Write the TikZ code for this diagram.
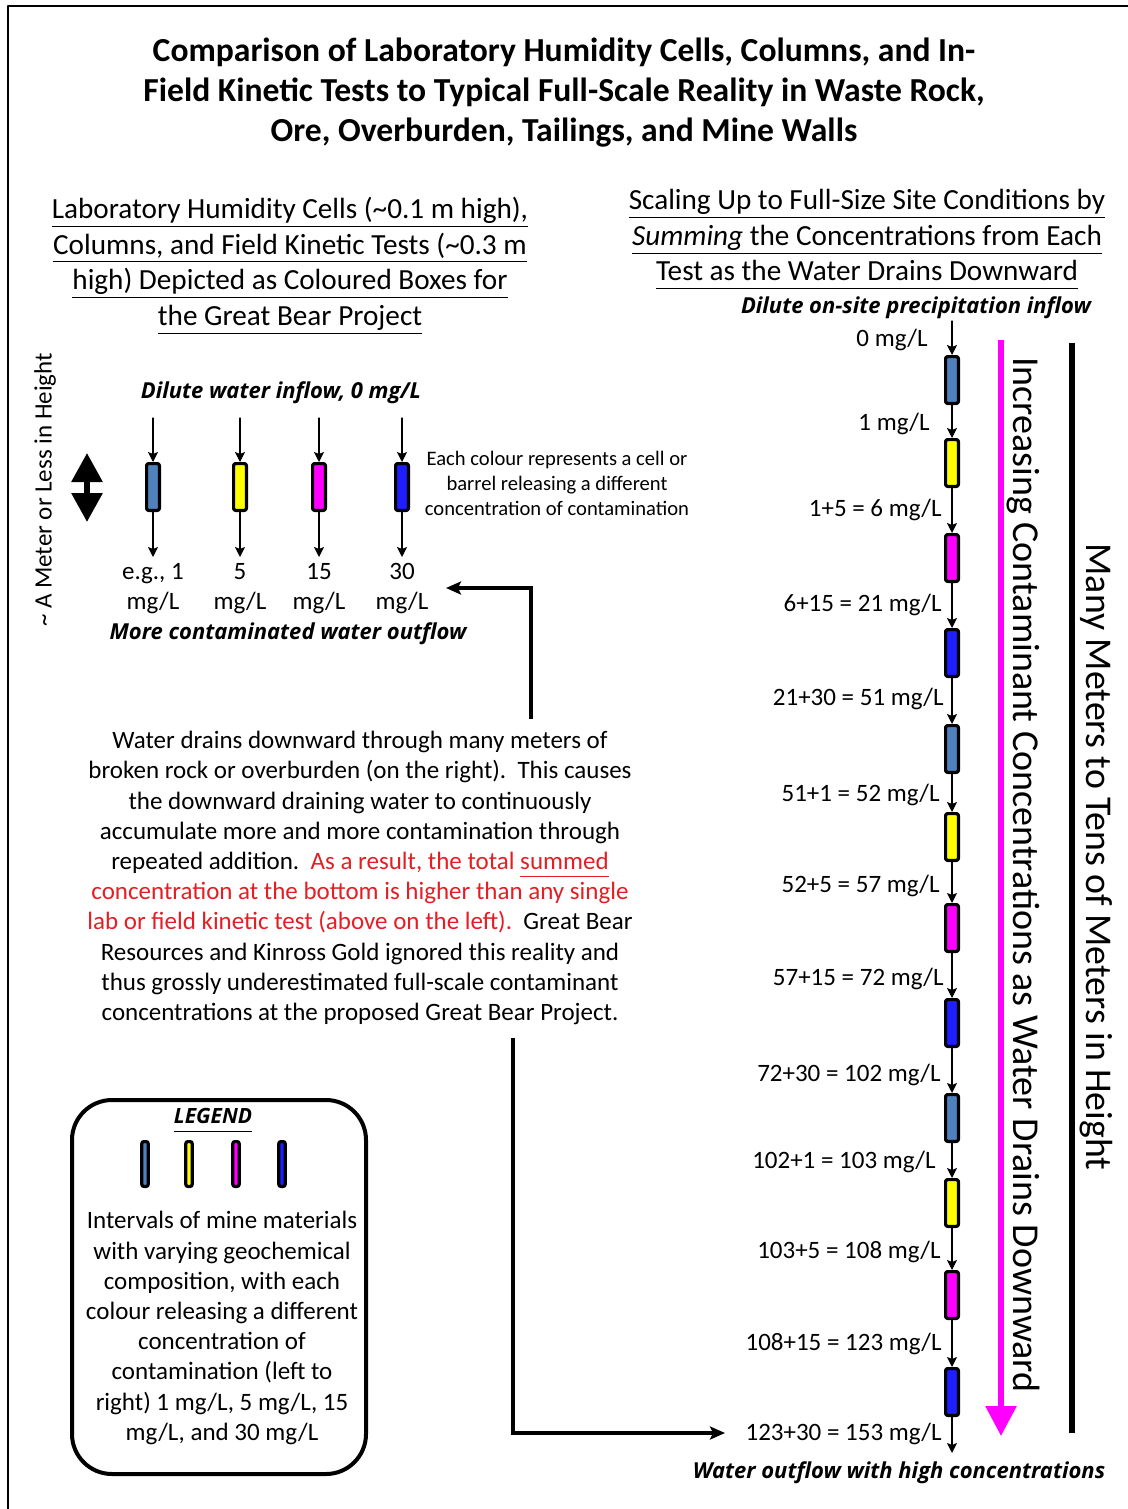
\documentclass[tikz,border=0pt]{standalone}
\usepackage{fontspec}
\setmainfont{Carlito}
\newfontfamily\opensans{Open Sans}
\usetikzlibrary{arrows.meta}

% Colours of the test cells
\definecolor{cellsteel}{RGB}{79,129,189}
\definecolor{cellyellow}{RGB}{255,255,0}
\definecolor{cellmagenta}{RGB}{255,0,255}
\definecolor{cellblue}{RGB}{30,30,255}
\definecolor{notered}{RGB}{228,30,36}

\def\mgl{mg/L}
\newcommand{\uln}[1]{\underline{#1\vphantom{y}}}

\begin{document}
\begin{tikzpicture}[x=0.5pt, y=-0.5pt, line cap=round, line join=round,
		cell/.style={draw=black, line width=1.6pt, rounded corners=1pt, inner sep=0pt,
			minimum width=6.4pt, minimum height=23.4pt},
		legendcell/.style={cell, minimum width=3.2pt, minimum height=22.4pt},
		flow/.style={line width=0.65pt, -{Stealth[length=5pt, width=5pt, inset=1pt]}},
		bigflow/.style={line width=2pt, line cap=butt, line join=miter,
			-{Stealth[length=7.5pt, width=6.5pt, inset=1.5pt]}},
		boldlabel/.style={font=\opensans\bfseries\itshape\fontsize{11}{13}\selectfont, inner sep=0pt},
		body/.style={font=\fontsize{12.5}{15.1}\selectfont, align=center, inner sep=0pt},
		heading/.style={font=\fontsize{14.6}{17.8}\selectfont, align=center, inner sep=0pt},
		conc/.style={font=\fontsize{12.5}{15}\selectfont, text height=8.5pt, text depth=2.5pt, inner sep=0pt}]
	
	% Page in pixel units, y grows downward
	\useasboundingbox (0,0) rectangle (1128,1509);
	\draw[line width=1pt, line cap=butt] (1128,6) -- (8,6) -- (8,1509);
	
	% Title
	\node[font=\bfseries\fontsize{16.8}{20}\selectfont, align=center, inner sep=0pt] (title) at (564,93)
	{Comparison of Laboratory Humidity Cells, Columns, and In-\\
		Field Kinetic Tests to Typical Full-Scale Reality in Waste Rock,\\
		Ore, Overburden, Tailings, and Mine Walls};
	
	% Headings of the two halves
	\node[heading] (lhead) at (290,266)
	{\uln{Laboratory Humidity Cells (\textasciitilde0.1 m high),}\\
		\uln{Columns, and Field Kinetic Tests (\textasciitilde0.3 m}\\
		\uln{high) Depicted as Coloured Boxes for}\\
		\uln{the Great Bear Project}};
	\node[heading] (rhead) at (867,239.5)
	{\uln{Scaling Up to Full-Size Site Conditions by}\\
		\uln{\textit{Summing} the Concentrations from Each}\\
		\uln{Test as the Water Drains Downward}};
	\node[boldlabel] (rinflow) at (916,308) {Dilute on-site precipitation inflow};
	
	% Small scale: height marker
	\node[rotate=90, font=\fontsize{12.5}{15}\selectfont] (lheight) at (45,490)
	{\textasciitilde{} A Meter or Less in Height};
	\coordinate (hup) at (87,453);
	\coordinate (hdown) at (87,522);
	\draw[line width=3pt, line cap=butt,
	{Triangle[length=14.5pt, width=15pt]}-{Triangle[length=14.5pt, width=15pt]}] (hup) -- (hdown);
	
	% Small scale: one cell per colour
	\node[boldlabel] (linflow) at (281,393) {Dilute water inflow, 0 \mgl};
	\foreach \n/\col/\xc/\conc in {1/cellsteel/153/{e.g., 1}, 2/cellyellow/240/5,
		3/cellmagenta/319/15, 4/cellblue/402/30} {
		\node[cell, fill=\col] (lc\n) at (\xc,487) {};
		\coordinate (lin\n) at (\xc,418);
		\coordinate (lout\n) at (\xc,557);
		\draw[flow] (lin\n) -- (lc\n);
		\draw[flow] (lc\n) -- (lout\n);
		\node[conc] (lconc\n) at (\xc,573) {\conc};
		\node[conc] (lunit\n) at (\xc,603) {\mgl};
	}
	\node[font=\fontsize{10.3}{12.5}\selectfont, align=center, inner sep=0pt] (lnote) at (557,483)
	{Each colour represents a cell or\\ barrel releasing a different\\ concentration of contamination};
	\node[boldlabel] (loutflow) at (288,634) {More contaminated water outflow};
	
	% Explanation
	\node[body] (story) at (360,878)
	{Water drains downward through many meters of\\
		broken rock or overburden (on the right).\ \ This causes\\
		the downward draining water to continuously\\
		accumulate more and more contamination through\\
		repeated addition.\ \ \textcolor{notered}{As a result, the total \uln{summed}}\\
		\textcolor{notered}{concentration at the bottom is higher than any single}\\
		\textcolor{notered}{lab or field kinetic test (above on the left).}\ \ Great Bear\\
		Resources and Kinross Gold ignored this reality and\\
		thus grossly underestimated full-scale contaminant\\
		concentrations at the proposed Great Bear Project.};
	
	% Pointers from the explanation
	\coordinate (upfrom) at (531,719);
	\coordinate (upto) at (446,588);
	\draw[bigflow] (upfrom) |- (upto);
	\coordinate (downfrom) at (513,1038);
	\coordinate (downto) at (725,1433);
	\draw[bigflow] (downfrom) |- (downto);
	
	% Legend
	\node[draw, line width=2pt, rounded corners=20pt, minimum width=147pt, minimum height=187pt,
	inner sep=0pt] (legend) at (219,1287) {};
	\node[boldlabel, font=\opensans\bfseries\itshape\fontsize{10.5}{12}\selectfont] (legtitle) at (213,1120) {\uln{LEGEND}};
	\foreach \n/\col/\xc in {1/cellsteel/145, 2/cellyellow/189, 3/cellmagenta/236, 4/cellblue/282}
	\node[legendcell, fill=\col] (leg\n) at (\xc,1164) {};
	\node[body] (legtext) at (222,1328)
	{Intervals of mine materials\\ with varying geochemical\\ composition, with each\\
		colour releasing a different\\ concentration of\\ contamination (left to\\
		right) 1 mg/L, 5 mg/L, 15\\ mg/L, and 30 mg/L};
	
	% Full scale: intervals stacked down the pile
	\foreach \n/\col/\yc in {1/cellsteel/380, 2/cellyellow/463, 3/cellmagenta/558, 4/cellblue/653,
		5/cellsteel/749, 6/cellyellow/837, 7/cellmagenta/928, 8/cellblue/1023,
		9/cellsteel/1118, 10/cellyellow/1203, 11/cellmagenta/1295, 12/cellblue/1392}
	\node[cell, fill=\col] (rc\n) at (952,\yc) {};
	\coordinate (rin) at (952,321);
	\coordinate (rout) at (952,1453);
	\draw[flow] (rin) -- (rc1);
	\foreach \a [count=\b from 2] in {1,...,11}
	\draw[flow] (rc\a) -- (rc\b);
	\draw[flow] (rc12) -- (rout);
	
	% Running sums
	\foreach \n/\txt/\xr/\yl in {1/{0 \mgl}/928/340, 2/{1 \mgl}/930/424, 3/{1+5 = 6 \mgl}/942/510,
		4/{6+15 = 21 \mgl}/942/605, 5/{21+30 = 51 \mgl}/944/699, 6/{51+1 = 52 \mgl}/940/795,
		7/{52+5 = 57 \mgl}/940/886, 8/{57+15 = 72 \mgl}/944/979, 9/{72+30 = 102 \mgl}/941/1075,
		10/{102+1 = 103 \mgl}/936/1162, 11/{103+5 = 108 \mgl}/941/1252,
		12/{108+15 = 123 \mgl}/942/1344, 13/{123+30 = 153 \mgl}/942/1434}
	\node[conc, anchor=east] (rl\n) at (\xr,\yl) {\txt};
	\node[boldlabel] (routflow) at (899,1473) {Water outflow with high concentrations};
	
	% Trend arrow and height bar
	\coordinate (pinktop) at (1001,340);
	\coordinate (pinkbot) at (1001,1436);
	\draw[cellmagenta, line width=2.8pt, line cap=butt, -{Triangle[length=15pt, width=15pt]}] (pinktop) -- (pinkbot);
	\node[rotate=-90, font=\fontsize{19}{20}\selectfont] (trend) at (1023,875)
	{Increasing Contaminant Concentrations as Water Drains Downward};
	\coordinate (bartop) at (1072,343);
	\coordinate (barbot) at (1072,1433);
	\draw[line width=2.8pt, line cap=butt] (bartop) -- (barbot);
	\node[rotate=-90, font=\fontsize{18.9}{20}\selectfont] (rheight) at (1096,857)
	{Many Meters to Tens of Meters in Height};
	
\end{tikzpicture}
\end{document}
